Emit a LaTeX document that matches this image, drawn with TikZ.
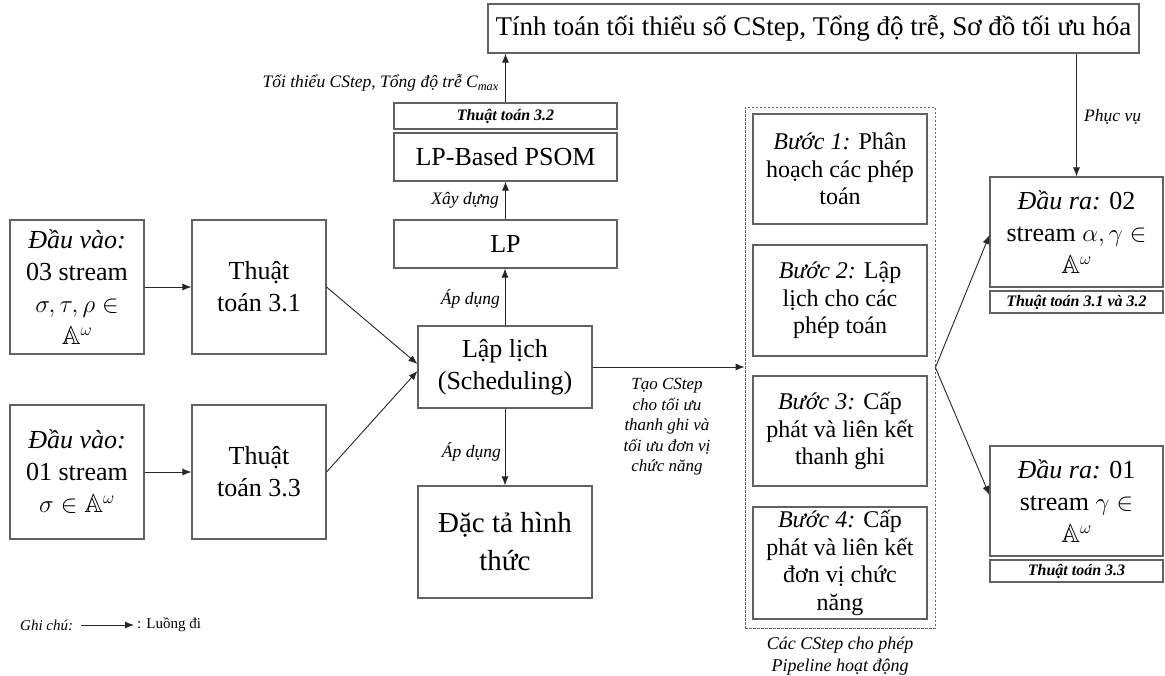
\documentclass[tikz,border=0pt]{standalone}
\usepackage{fontspec}
\usepackage{amssymb}
\setmainfont{Liberation Serif}
\usetikzlibrary{arrows.meta}

\newcommand{\myfs}[2]{\fontsize{#1}{#2}\selectfont}

\tikzset{
  box/.style={draw=black!62, line width=1.1pt, inner sep=2pt, align=center,
              font=\myfs{26}{32}},
  stepbox/.style={box, minimum width=174, font=\myfs{24}{27.5}},
  tagbox/.style={draw=black!62, line width=1.1pt, inner sep=1pt, align=center,
                 font=\myfs{16}{18}\bfseries\itshape},
  pipebox/.style={draw=black!60, line width=0.8pt, dash pattern=on 2.5pt off 1.5pt},
  flow/.style={draw=black!85, line width=0.9pt, -{Latex[length=9pt,width=7pt]}},
  lbl/.style={font=\myfs{17.5}{20}\itshape, inner sep=1pt, align=center},
  note/.style={font=\myfs{15}{17}, inner sep=0pt},
}

\begin{document}
\begin{tikzpicture}[x=1pt,y=-1pt]
\useasboundingbox (0,0) rectangle (1165,675);

% inputs and first algorithms
\node[box, minimum width=134, minimum height=134] (in1) at (77,287)
  {\textit{Đầu vào:}\\03 stream\\$\sigma,\tau,\rho\in$\\$\mathbb{A}^{\omega}$};
\node[box, minimum width=134, minimum height=134] (alg31) at (259,287)
  {Thuật\\toán 3.1};
\node[box, minimum width=134, minimum height=134] (in2) at (77,472)
  {\textit{Đầu vào:}\\01 stream\\$\sigma\in\mathbb{A}^{\omega}$};
\node[box, minimum width=134, minimum height=134] (alg33) at (259,472)
  {Thuật\\toán 3.3};

% scheduling column
\node[box, minimum width=174, minimum height=82] (sched) at (505,367)
  {Lập lịch\\(Scheduling)};
\node[box, minimum width=223, minimum height=48] (lp) at (505.5,244) {LP};
\node[box, minimum width=223, minimum height=48] (psom) at (505.5,157) {LP-Based PSOM};
\node[tagbox, minimum width=223, minimum height=26] (alg32) at (505.5,116) {Thuật toán 3.2};
\node[box, minimum width=174, minimum height=112, font=\myfs{29}{38}] (spec) at (505,542)
  {Đặc tả hình\\thức};

% top result box
\node[box, minimum width=651, minimum height=49, font=\myfs{27}{32}] (top) at (813.5,28.5)
  {Tính toán tối thiểu số CStep, Tổng độ trễ, Sơ đồ tối ưu hóa};

% pipeline steps
\node[pipebox, minimum width=190, minimum height=521] (pipe) at (840,367.5) {};
\node[stepbox, minimum height=110] (st1) at (840,169)
  {\textit{Bước 1:} Phân\\hoạch các phép\\toán};
\node[stepbox, minimum height=111] (st2) at (840,300.5)
  {\textit{Bước 2:} Lập\\lịch cho các\\phép toán};
\node[stepbox, minimum height=110] (st3) at (840,431)
  {\textit{Bước 3:} Cấp\\phát và liên kết\\thanh ghi};
\node[stepbox, minimum height=112] (st4) at (840,563)
  {\textit{Bước 4:} Cấp\\phát và liên kết\\đơn vị chức\\năng};
\node[lbl, font=\myfs{18}{22}\itshape] (pipecap) at (840,656)
  {Các CStep cho phép\\Pipeline hoạt động};

% outputs
\node[box, minimum width=173, minimum height=110] (out1) at (1076.5,232)
  {\textit{Đầu ra:} 02\\stream $\alpha,\gamma\in$\\$\mathbb{A}^{\omega}$};
\node[tagbox, minimum width=173, minimum height=22] (tag1) at (1076.5,302)
  {Thuật toán 3.1 và 3.2};
\node[box, minimum width=173, minimum height=110] (out2) at (1076.5,501)
  {\textit{Đầu ra:} 01\\stream $\gamma\in$\\$\mathbb{A}^{\omega}$};
\node[tagbox, minimum width=173, minimum height=22] (tag2) at (1076.5,571)
  {Thuật toán 3.3};

% connectors
\draw[flow] (in1) -- (alg31);
\draw[flow] (in2) -- (alg33);
\draw[flow] (alg31.east) -- ([yshift=3]sched.west);
\draw[flow] (alg33.east) -- ([yshift=-4]sched.west);
\draw[flow] (sched.north) -- (sched.north |- lp.south);
\draw[flow] (lp.north) -- (psom.south);
\draw[flow] (alg32.north) -- (alg32.north |- top.south);
\draw[flow] (sched.south) -- (spec.north);
\draw[flow] (sched.east) -- (sched.east -| pipe.west);
\draw[flow] (pipe.east) -- ([yshift=-3]out1.west);
\draw[flow] (pipe.east) -- ([yshift=6]out2.west);
\draw[flow] (top.south -| out1.north) -- (out1.north);

% connector labels
\node[lbl, anchor=east] (lblmin) at (500,83)
  {Tối thiểu CStep, Tổng độ trễ C\textsubscript{max}};
\node[lbl, anchor=east] (lblbuild) at (500,200) {Xây dựng};
\node[lbl, anchor=east] (lblapp1) at (501,299) {Áp dụng};
\node[lbl, anchor=east] (lblapp2) at (502,452) {Áp dụng};
\node[lbl, font=\myfs{17}{20.5}\itshape] (lblcstep) at (667,427)
  {Tạo CStep\\cho tối ưu\\thanh ghi và\\tối ưu đơn vị\\chức năng};
\node[lbl, anchor=west] (lblserve) at (1083,117) {Phục vụ};

% legend
\node[note, anchor=west, font=\myfs{15}{17}\itshape] (lgtxt) at (20,625) {Ghi chú:};
\coordinate (lga) at (81,625);
\coordinate (lgb) at (134,625);
\draw[flow] (lga) -- (lgb);
\node[note, anchor=west] (lgdesc) at (137,625) {: Luồng đi};
\end{tikzpicture}
\end{document}
